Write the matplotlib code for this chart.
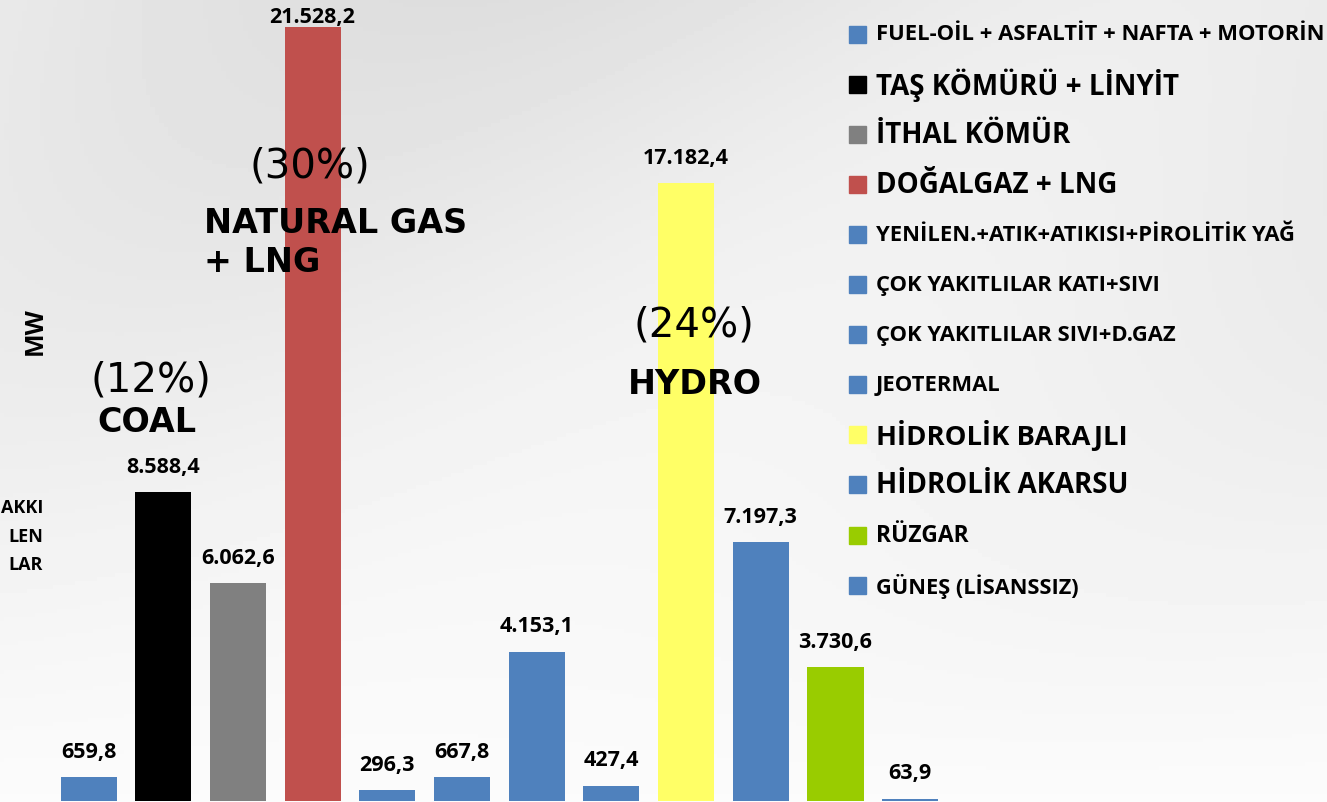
import numpy as np
import matplotlib
matplotlib.use('Agg')
from matplotlib import pyplot as plt
from matplotlib.patches import Rectangle

plt.rcParams['font.family'] = ['Open Sans', 'DejaVu Sans']

# installed capacity by source (MW)
sources = ['FUEL-OİL + ASFALTİT + NAFTA + MOTORİN', 'TAŞ KÖMÜRÜ + LİNYİT', 'İTHAL KÖMÜR',
           'DOĞALGAZ + LNG', 'YENİLEN.+ATIK+ATIKISI+PİROLİTİK YAĞ', 'ÇOK YAKITLILAR KATI+SIVI',
           'ÇOK YAKITLILAR SIVI+D.GAZ', 'JEOTERMAL', 'HİDROLİK BARAJLI', 'HİDROLİK AKARSU',
           'RÜZGAR', 'GÜNEŞ (LİSANSSIZ)']
values = [659.8, 8588.4, 6062.6, 21528.2, 296.3, 667.8, 4153.1, 427.4, 17182.4, 7197.3, 3730.6, 63.9]
value_labels = ['659,8', '8.588,4', '6.062,6', '21.528,2', '296,3', '667,8', '4.153,1', '427,4',
                '17.182,4', '7.197,3', '3.730,6', '63,9']
colors = ['#4F81BD', '#000000', '#808080', '#C0504D', '#4F81BD', '#4F81BD', '#4F81BD',
          '#4F81BD', '#FFFF66', '#4F81BD', '#99CC00', '#4F81BD']
legend_sizes = [15.8, 20, 20, 20, 15.8, 15.8, 15.8, 15.8, 19.7, 19.9, 16.5, 15.7]

fig = plt.figure(figsize=(13.27, 8.03), dpi=100)

# background gradient
bg = fig.add_axes([0, 0, 1, 1], zorder=0)
yy, xx = np.mgrid[0:1:200j, 0:1:300j]
shade = 0.985 - 0.085 * yy + 0.03 * np.sin(6 * (xx - 0.6 * yy)) * yy
bg.imshow(shade, cmap='gray', vmin=0, vmax=1, extent=[0, 1, 0, 1], origin='lower', aspect='auto')
bg.axis('off')

ax = fig.add_axes([0, 0, 1, 1], zorder=1)
ax.patch.set_alpha(0)
x = np.arange(len(values))
ax.bar(x, values, width=0.75, color=colors, zorder=2)
ax.set_xlim(-1.185, 16.58)
ax.set_ylim(-27.8, 22309)
ax.axis('off')

# value labels above bars
for xi, v, lab in zip(x, values, value_labels):
    ytxt = min(v + 720, 21836)
    ax.text(xi, ytxt, lab, ha='center', va='center', fontsize=15.5, fontweight='bold', zorder=4)

# group annotations
pct_font = dict(fontsize=29, fontweight='normal', family=['DejaVu Sans'], zorder=5)
grp_font = dict(fontsize=24, fontweight='bold', family=['DejaVu Sans'], zorder=5)
ax.text(2.965, 17664, '(30%)', ha='center', va='center', **pct_font)
ax.text(0.837, 11711, '(12%)', ha='center', va='center', **pct_font)
ax.text(8.105, 13268, '(24%)', ha='center', va='center', **pct_font)
ax.text(1.546, 15549, 'NATURAL GAS\n+ LNG', ha='left', va='center', linespacing=1.2, **grp_font)
ax.text(0.114, 10570, 'COAL', ha='left', va='center', **grp_font)
ax.text(7.22, 11627, 'HYDRO', ha='left', va='center', **grp_font)

# axis title and cut-off side text
fig.text(35 / 1327, 1 - 331 / 803, 'MW', rotation=90, ha='center', va='center',
         fontsize=18, fontweight='bold')
for t, py in zip(['AKKI', 'LEN', 'LAR'], [508, 537, 565]):
    fig.text(43 / 1327, 1 - py / 803, t, ha='right', va='center', fontsize=13, fontweight='bold')

# legend
for i, (lab, c, fs) in enumerate(zip(sources, colors, legend_sizes)):
    py = 35 + 50.1 * i
    fig.patches.append(Rectangle((849 / 1327, 1 - (py + 8.5) / 803), 17 / 1327, 17 / 803,
                                 transform=fig.transFigure, color=c, zorder=3))
    fig.text(876 / 1327, 1 - py / 803, lab, ha='left', va='center', fontsize=fs,
             fontweight='bold', zorder=3)

fig.savefig('out.png', dpi=100)
